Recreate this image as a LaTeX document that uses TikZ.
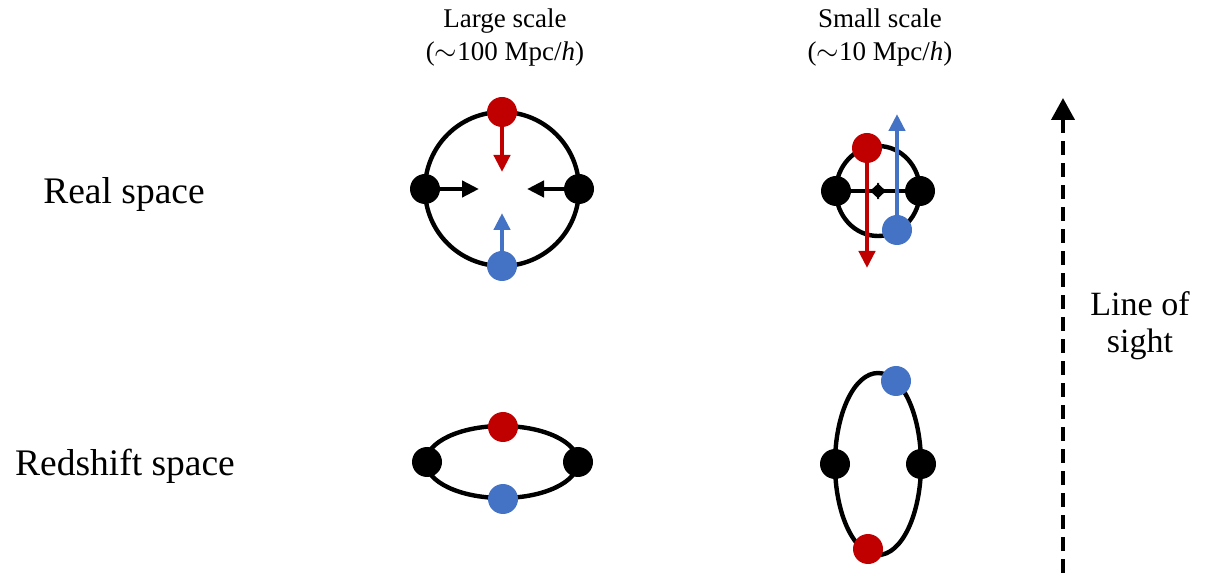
\documentclass[tikz,border=0pt]{standalone}
\usepackage{fontspec}
\setmainfont{Liberation Serif}
\usetikzlibrary{arrows.meta}
\definecolor{rsdred}{HTML}{C00000}
\definecolor{rsdblue}{HTML}{4472C4}
\tikzset{
  ring/.style={line width=2.2pt},
  dot/.style={circle,inner sep=0pt,minimum size=15pt},
  blackdot/.style={dot,fill=black},
  reddot/.style={dot,fill=rsdred},
  bluedot/.style={dot,fill=rsdblue},
  flow/.style={-{Triangle[width=8pt,length=8.5pt]},line width=2.2pt},
  tinyflow/.style={-{Triangle[width=8pt,length=4.5pt]},line width=2pt},
  spacelabel/.style={inner sep=0pt,anchor=base,font=\fontsize{18.75}{22}\selectfont},
  header/.style={align=center,inner sep=0pt,font=\fontsize{13.5}{16.5}\selectfont},
  sightlabel/.style={align=center,inner sep=0pt,font=\fontsize{17}{18.5}\selectfont},
  sight/.style={-{Triangle[width=11.5pt,length=11pt]},line width=2pt,dash pattern=on 7pt off 4pt}
}

\begin{document}
\begin{tikzpicture}[x=0.5pt,y=-0.5pt]
\useasboundingbox (0,0) rectangle (1214,576);

% column and row titles
\node[header] (large) at (505,38) {Large scale\\($\sim$100 Mpc/\textit{h})};
\node[header] (small) at (880,38) {Small scale\\($\sim$10 Mpc/\textit{h})};
\node[spacelabel] (real) at (124,204) {Real space};
\node[spacelabel] (redshift) at (125,475) {Redshift space};

% large scale, real space
\draw[ring] (502,189) circle (38.5pt);
\node[blackdot] (bl1) at (425,189) {};
\node[blackdot] (br1) at (579,189) {};
\node[reddot] (r1) at (502,112) {};
\node[bluedot] (b1) at (502,266) {};
\coordinate (tl1) at (479,189);
\coordinate (tr1) at (527,189);
\coordinate (tt1) at (502,172);
\coordinate (tb1) at (502,213);
\draw[flow] (bl1) -- (tl1);
\draw[flow] (br1) -- (tr1);
\draw[flow,rsdred] (r1) -- (tt1);
\draw[flow,rsdblue] (b1) -- (tb1);

% small scale, real space
\draw[ring] (878,191) ellipse [x radius=21pt,y radius=22.5pt];
\node[blackdot] (bl2) at (836,191) {};
\node[blackdot] (br2) at (920,191) {};
\coordinate (tl2) at (886,191);
\coordinate (tr2) at (870,191);
\draw[tinyflow] (bl2) -- (tl2);
\draw[tinyflow] (br2) -- (tr2);
\coordinate (tt2) at (867,268);
\coordinate (tb2) at (897,114);
\draw[flow,rsdred] (867,148) -- (tt2);
\node[reddot] (r2) at (867,148) {};
\draw[flow,rsdblue] (897,230) -- (tb2);
\node[bluedot] (b2) at (897,230) {};

% large scale, redshift space
\draw[ring] (502,462) ellipse [x radius=38pt,y radius=18pt];
\node[blackdot] (bl3) at (427,462) {};
\node[blackdot] (br3) at (578,462) {};
\node[reddot] (r3) at (503,427) {};
\node[bluedot] (b3) at (503,499) {};

% small scale, redshift space
\draw[ring] (878,464) ellipse [x radius=21.5pt,y radius=45.5pt];
\node[blackdot] (bl4) at (835,464) {};
\node[blackdot] (br4) at (921,464) {};
\node[bluedot] (b4) at (896,381) {};
\node[reddot] (r4) at (868,549) {};

% line of sight
\coordinate (losb) at (1063,573);
\coordinate (lost) at (1063,98);
\draw[sight] (losb) -- (lost);
\node[sightlabel] (los) at (1140,326) {Line of\\sight};
\end{tikzpicture}
\end{document}
